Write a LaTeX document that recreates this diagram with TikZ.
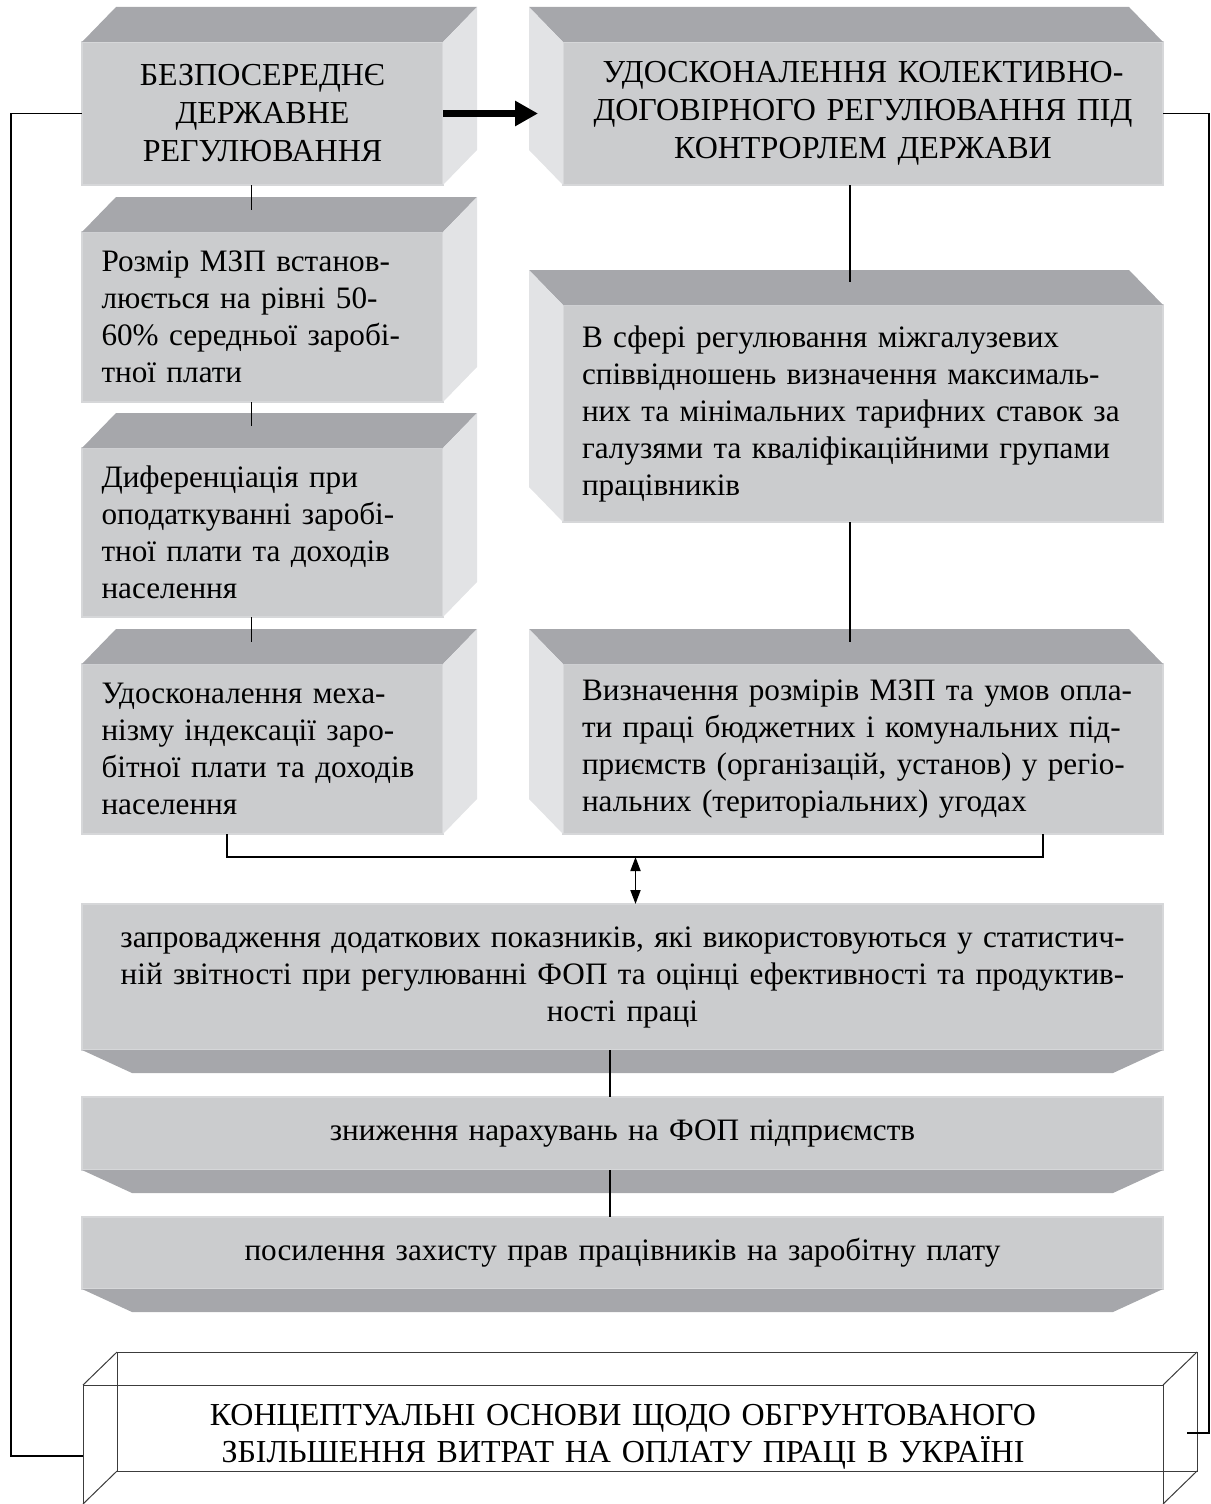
\documentclass[tikz,border=0pt]{standalone}
\usepackage{fontspec}
\setmainfont{Liberation Serif}
\usetikzlibrary{calc,arrows.meta}

\definecolor{frontgrey}{RGB}{203,204,206}
\definecolor{topgrey}{RGB}{166,167,171}
\definecolor{sidegrey}{RGB}{226,227,229}
\definecolor{edgegrey}{RGB}{214,215,217}
\definecolor{wiregrey}{RGB}{60,60,60}

\tikzset{
	front/.style={draw=edgegrey, line width=0.6pt, fill=frontgrey, anchor=north west,
		outer sep=0pt, inner ysep=0pt, font=\fontsize{15.6pt}{18.5pt}\selectfont},
	leftcol/.style={front, minimum width=180.5pt, text width=161pt, inner xsep=9.75pt, align=left},
	rightcol/.style={front, minimum width=300pt, text width=281pt, inner xsep=9.5pt, align=left},
	wide/.style={front, minimum width=540.5pt, text width=520pt, inner xsep=10pt, align=center},
	caps/.style={align=center, font=\fontsize{16pt}{19pt}\selectfont},
	topface/.style={fill=topgrey},
	sideface/.style={fill=sidegrey},
	wire/.style={draw=wiregrey, line width=0.5pt},
	line/.style={line width=0.9pt},
	bigarrow/.style={line width=3.5pt, -{Triangle[length=11.5pt,width=12pt]}},
	dblarrow/.style={line width=0.9pt, {Triangle[length=7pt,width=5pt]}-{Triangle[length=7pt,width=5pt]}}
}

\begin{document}
\begin{tikzpicture}[x=0.5pt, y=-0.5pt]
	\useasboundingbox (0,0) rectangle (1210,1504);

	% Лівий стовпчик
	\node[leftcol, caps, minimum height=71.5pt] (bezp) at (82,42) {БЕЗПОСЕРЕДНЄ\\ДЕРЖАВНЕ\\РЕГУЛЮВАННЯ};
	\node[leftcol, minimum height=85pt] (rozmir) at (82,232) {Розмір МЗП встанов-\\люється на рівні 50-\\60\% середньої заробі-\\тної плати};
	\node[leftcol, minimum height=84.5pt] (dyf) at (82,448) {Диференціація при\\оподаткуванні заробі-\\тної плати та доходів\\населення};
	\node[leftcol, minimum height=85pt] (mech) at (82,664) {Удосконалення меха-\\нізму індексації заро-\\бітної плати та доходів\\населення};

	% Правий стовпчик
	\node[rightcol, caps, minimum height=71.5pt] (udos) at (563,42) {УДОСКОНАЛЕННЯ КОЛЕКТИВНО-\\ДОГОВІРНОГО РЕГУЛЮВАННЯ ПІД\\КОНТРОРЛЕМ ДЕРЖАВИ};
	\node[rightcol, minimum height=108.5pt] (sfera) at (563,305) {В сфері регулювання міжгалузевих\\співвідношень визначення максималь-\\них та мінімальних тарифних ставок за\\галузями та кваліфікаційними групами\\працівників};
	\node[rightcol, minimum height=85pt] (vyzn) at (563,664) {Визначення розмірів МЗП та умов опла-\\ти праці бюджетних і комунальних під-\\приємств (організацій, установ) у регіо-\\нальних (територіальних) угодах};

	% Широкі блоки
	\node[wide, minimum height=73pt] (zapr) at (82,904) {запровадження додаткових показників, які використовуються у статистич-\\ній звітності при регулюванні ФОП та оцінці ефективності та продуктив-\\ності праці};
	\node[wide, minimum height=36.5pt] (znyzh) at (82,1097) {зниження нарахувань на ФОП підприємств};
	\node[wide, minimum height=36pt] (posyl) at (82,1217) {посилення захисту прав працівників на заробітну плату};

	% Грані блоків
	\foreach \n in {bezp,rozmir,dyf,mech} {
		\fill[topface] (\n.north west) -- ++(34,-35) -- ($(\n.north east)+(34,-35)$) -- (\n.north east) -- cycle;
		\fill[sideface] (\n.north east) -- ++(34,-35) -- ($(\n.south east)+(34,-35)$) -- (\n.south east) -- cycle;
	}
	\foreach \n in {udos,sfera,vyzn} {
		\fill[topface] (\n.north west) -- ++(-34,-35) -- ($(\n.north east)+(-34,-35)$) -- (\n.north east) -- cycle;
		\fill[sideface] (\n.north west) -- ++(-34,-35) -- ($(\n.south west)+(-34,-35)$) -- (\n.south west) -- cycle;
	}
	\foreach \n in {zapr,znyzh,posyl} {
		\fill[topface] (\n.south west) -- ++(50,23) -- ($(\n.south east)+(-50,23)$) -- (\n.south east) -- cycle;
	}

	% Підсумковий блок
	\node[wire, anchor=north west, outer sep=0pt, minimum width=540pt, minimum height=59.5pt,
		text width=520pt, align=center, text depth=30pt, font=\fontsize{16pt}{18.5pt}\selectfont]
		(osn) at (83,1385) {КОНЦЕПТУАЛЬНІ ОСНОВИ ЩОДО ОБГРУНТОВАНОГО\\ЗБІЛЬШЕННЯ ВИТРАТ НА ОПЛАТУ ПРАЦІ В УКРАЇНІ};
	\draw[wire] ($(osn.north west)+(34,-33)$) rectangle ($(osn.south east)+(34,-33)$);
	\draw[wire] (osn.north west) -- ++(34,-33) (osn.north east) -- ++(34,-33)
		(osn.south west) -- ++(34,-33) (osn.south east) -- ++(34,-33);

	% Зв'язки
	\draw[bigarrow] (bezp.east) -- ($(udos.west)+(-25,0)$);
	\draw[line] (bezp.west) -- ++(-71,0) |- ($(osn.west)+(0,11.5)$);
	\draw[line] (udos.east) -- ++(46,0) |- ($(osn.east)+(24,-11.5)$);
	\draw[line] ($(bezp.south)+(-11,0)$) -- ($(rozmir.north)+(-11,-22)$);
	\draw[line] ($(rozmir.south)+(-11,0)$) -- ($(dyf.north)+(-11,-22)$);
	\draw[line] ($(dyf.south)+(-11,0)$) -- ($(mech.north)+(-11,-22)$);
	\draw[line] ($(udos.south)+(-13,0)$) -- ($(sfera.north)+(-13,-23)$);
	\draw[line] ($(sfera.south)+(-13,0)$) -- ($(vyzn.north)+(-13,-22)$);
	\draw[line] ($(mech.south)+(-35.5,0)$) -- ++(0,23) -| ($(vyzn.south)+(180,0)$);
	\coordinate (razv) at ($(zapr.north)+(13,-47)$);
	\draw[dblarrow] (razv) -- (razv |- zapr.north);
	\draw[line] ($(zapr.south)+(-12.5,0)$) -- ($(znyzh.north)+(-12.5,0)$);
	\draw[line] ($(znyzh.south)+(-12.5,0)$) -- ($(posyl.north)+(-12.5,0)$);
\end{tikzpicture}
\end{document}
